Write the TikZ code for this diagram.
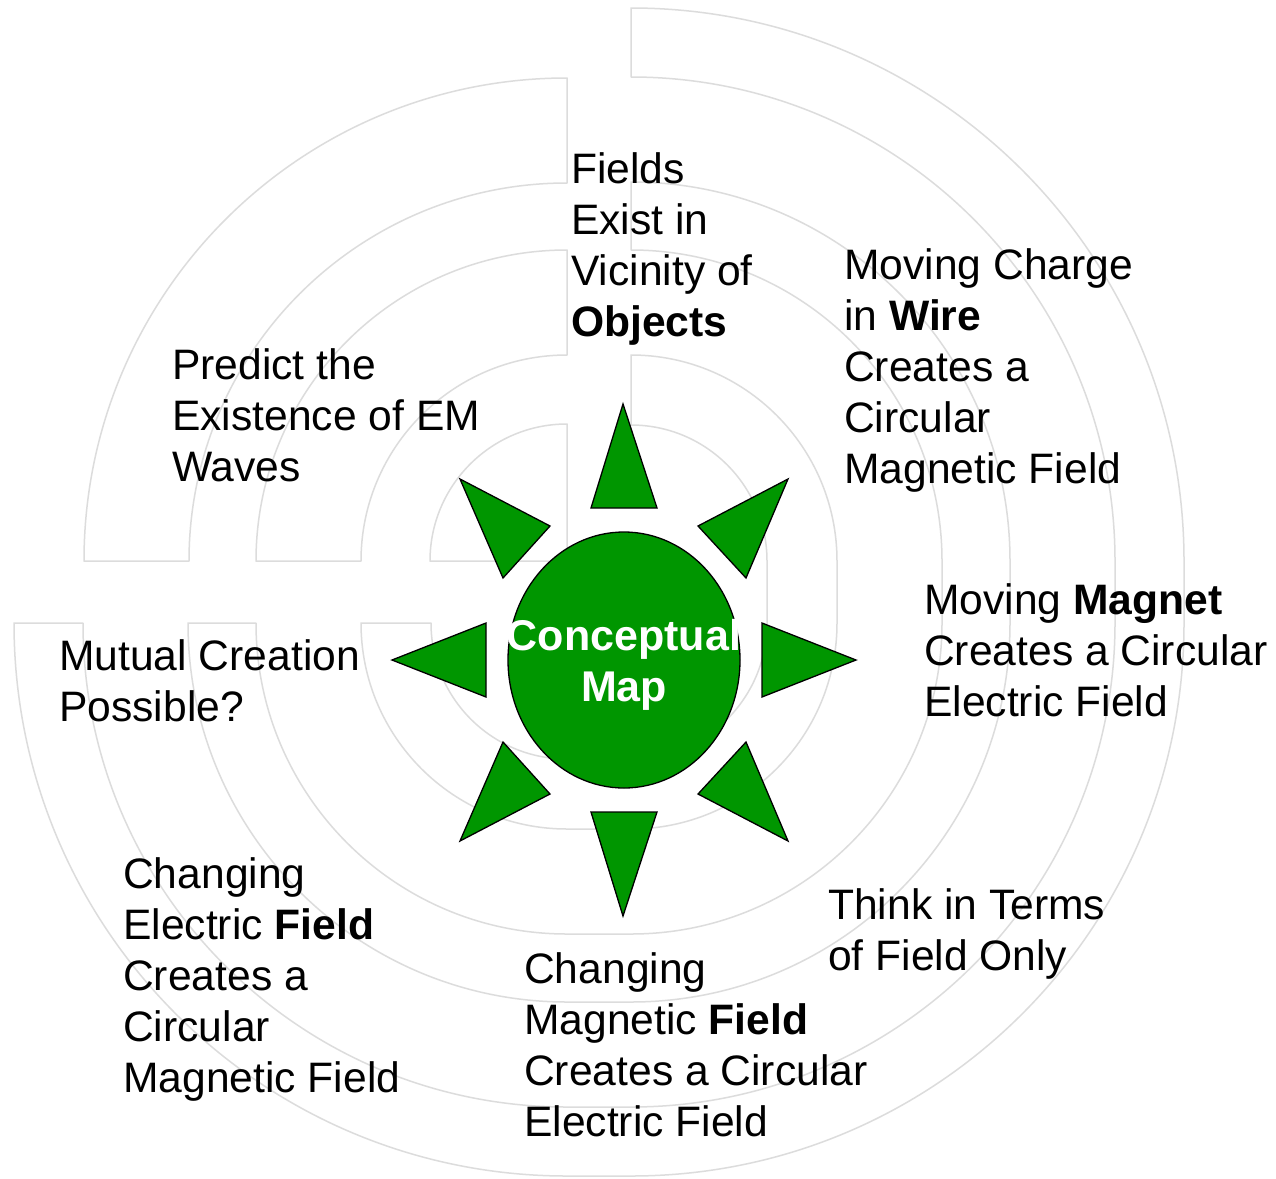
\documentclass[tikz,border=0pt]{standalone}
\usepackage{fontspec}
\setmainfont{Liberation Sans}
\definecolor{sungreen}{RGB}{0,150,0}
\definecolor{bandgray}{RGB}{220,220,220}
\newcommand\myblock[1]{\vtop{\baselineskip=51pt\lineskiplimit=-60pt\lineskip=0pt #1}}
\newcommand\myline[1]{\hbox{#1}}
% quarter band in the upper left quadrant
\newcommand\tlpiece[2]{%
  \draw[band] (567-#2,-561) arc[start angle=180,end angle=90,radius=#2]
    -- (567,-561+#1) arc[start angle=90,end angle=180,radius=#1] -- cycle;}
% three-quarter band: lower left, lower right, upper right
\newcommand\tqpiece[2]{%
  \draw[band] (567-#2,-623) arc[start angle=180,end angle=270,radius=#2]
    -- (631,-623-#2) arc[start angle=270,end angle=360,radius=#2]
    -- (631+#2,-561) arc[start angle=0,end angle=90,radius=#2]
    -- (631,-561+#1) arc[start angle=90,end angle=0,radius=#1]
    -- (631+#1,-623) arc[start angle=0,end angle=-90,radius=#1]
    -- (567,-623-#1) arc[start angle=270,end angle=180,radius=#1] -- cycle;}
\begin{document}
\begin{tikzpicture}[x=1pt,y=1pt,
  band/.style={draw=bandgray, line width=1.5pt, fill=white, line join=round},
  ray/.style={draw=black, line width=1.3pt, fill=sungreen, line join=miter},
  lbl/.style={anchor=base west, inner sep=0pt, font=\fontsize{42.6}{51}\selectfont}]
\useasboundingbox (0,0) rectangle (1276,-1178);
\fill[white] (0,0) rectangle (1276,-1178);
% background labyrinth
\tqpiece{484}{553}
\tqpiece{311}{379}
\tqpiece{136}{206}
\tlpiece{378}{483}
\tlpiece{206}{311}
\draw[band] (567-137,-561) arc[start angle=180,end angle=90,radius=137] -- (567,-561) -- cycle;
% sun
\filldraw[ray] (623,-404) -- (591,-508) -- (657,-508) -- cycle;
\filldraw[ray] (623,-916) -- (591,-812) -- (657,-812) -- cycle;
\filldraw[ray] (392,-660) -- (486,-623) -- (486,-697) -- cycle;
\filldraw[ray] (856,-660) -- (762,-623) -- (762,-697) -- cycle;
\filldraw[ray] (460,-479) -- (550,-526) -- (503,-578) -- cycle;
\filldraw[ray] (788,-479) -- (698,-526) -- (746,-578) -- cycle;
\filldraw[ray] (460,-841) -- (550,-794) -- (503,-742) -- cycle;
\filldraw[ray] (788,-841) -- (698,-794) -- (746,-742) -- cycle;
\filldraw[ray] (624,-660) ellipse[x radius=116, y radius=128];
\node[anchor=base, inner sep=0pt, text=white, font=\bfseries\fontsize{43}{51}\selectfont] (cmap) at (624,-650)
  {\vtop{\baselineskip=51pt\hbox to 0pt{\hss Conceptual\hss}\hbox to 0pt{\hss Map\hss}}};
% labels
\node[lbl] (fields) at (571,-183) {\myblock{\myline{Fields}\myline{Exist in}\myline{Vicinity of}\myline{\textbf{Objects}}}};
\node[lbl] (charge) at (844,-279) {\myblock{\myline{Moving Charge}\myline{in \textbf{Wire}}\myline{Creates a}\myline{Circular}\myline{Magnetic Field}}};
\node[lbl] (predict) at (172,-379) {\myblock{\myline{Predict the}\myline{Existence of EM}\myline{Waves}}};
\node[lbl] (magnet) at (924,-614) {\myblock{\myline{Moving \textbf{Magnet}}\myline{Creates a Circular}\myline{Electric Field}}};
\node[lbl] (mutual) at (59,-670) {\myblock{\myline{Mutual Creation}\myline{Possible?}}};
\node[lbl] (efield) at (123,-888) {\myblock{\myline{Changing}\myline{Electric \textbf{Field}}\myline{Creates a}\myline{Circular}\myline{Magnetic Field}}};
\node[lbl] (think) at (828,-919) {\myblock{\myline{Think in Terms}\myline{of Field Only}}};
\node[lbl] (mfield) at (524,-983) {\myblock{\myline{Changing}\myline{Magnetic \textbf{Field}}\myline{Creates a Circular}\myline{Electric Field}}};
\end{tikzpicture}
\end{document}
